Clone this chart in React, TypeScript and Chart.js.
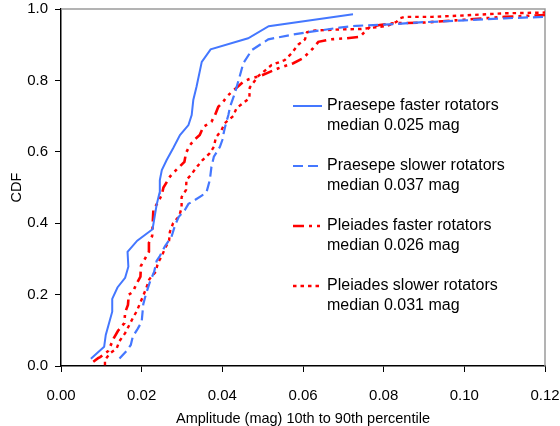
import { useEffect, useRef } from 'react';
import { Chart, registerables } from 'chart.js';

Chart.register(...registerables);

const FONT = '"Liberation Sans", Arial, sans-serif';

const xTickStep = 0.02;
const yTickStep = 0.2;
const xTitle = 'Amplitude (mag) 10th to 90th percentile';
const yTitle = 'CDF';

const praesepeFasterAmp = [0.0074, 0.0107, 0.0111, 0.0127, 0.0127, 0.014, 0.0159, 0.0167, 0.0165, 0.0189, 0.0227, 0.0237, 0.0244, 0.0245, 0.025, 0.0262, 0.0278, 0.0295, 0.0316, 0.0324, 0.0328, 0.0336, 0.0349, 0.0371, 0.0464, 0.0515, 0.0724];
const praesepeFasterCdf = [0.02, 0.054, 0.087, 0.152, 0.188, 0.22, 0.247, 0.278, 0.32, 0.351, 0.383, 0.451, 0.484, 0.521, 0.549, 0.577, 0.61, 0.647, 0.675, 0.703, 0.745, 0.782, 0.852, 0.887, 0.918, 0.952, 0.985];

const praesepeSlowerAmp = [0.0145, 0.0163, 0.0173, 0.0178, 0.019, 0.02, 0.0204, 0.021, 0.022, 0.0231, 0.0237, 0.0245, 0.0258, 0.0274, 0.0283, 0.0292, 0.0307, 0.0316, 0.0332, 0.0349, 0.0361, 0.0369, 0.0373, 0.0379, 0.0394, 0.04, 0.0404, 0.0409, 0.0415, 0.0419, 0.0431, 0.0444, 0.0452, 0.0473, 0.0514, 0.0568, 0.0617, 0.065, 0.0691, 0.0733, 0.0815, 0.0898, 0.1, 0.11, 0.12];
const praesepeSlowerCdf = [0.021, 0.043, 0.059, 0.082, 0.104, 0.124, 0.173, 0.199, 0.234, 0.264, 0.294, 0.308, 0.336, 0.362, 0.395, 0.418, 0.437, 0.454, 0.465, 0.477, 0.488, 0.521, 0.558, 0.586, 0.614, 0.633, 0.656, 0.68, 0.703, 0.726, 0.764, 0.815, 0.848, 0.885, 0.915, 0.927, 0.936, 0.941, 0.948, 0.953, 0.957, 0.963, 0.968, 0.974, 0.978];

const pleiadesFasterAmp = [0.008, 0.0092, 0.0097, 0.0117, 0.0131, 0.0141, 0.0157, 0.0159, 0.0166, 0.0168, 0.0178, 0.0188, 0.0197, 0.0198, 0.0208, 0.0218, 0.0218, 0.0226, 0.0227, 0.0229, 0.0241, 0.025, 0.0254, 0.027, 0.0278, 0.0291, 0.0306, 0.031, 0.032, 0.0332, 0.0344, 0.0353, 0.0373, 0.0382, 0.039, 0.0402, 0.0412, 0.0452, 0.0467, 0.0493, 0.0518, 0.0539, 0.0576, 0.06, 0.0625, 0.0638, 0.0667, 0.0708, 0.0741, 0.0753, 0.0766, 0.079, 0.0824, 0.09, 0.1, 0.11, 0.12];
const pleiadesFasterCdf = [0.012, 0.022, 0.025, 0.042, 0.078, 0.098, 0.12, 0.15, 0.171, 0.2, 0.207, 0.232, 0.25, 0.28, 0.3, 0.32, 0.345, 0.364, 0.39, 0.437, 0.46, 0.48, 0.5, 0.53, 0.541, 0.555, 0.572, 0.597, 0.619, 0.635, 0.647, 0.67, 0.684, 0.703, 0.726, 0.74, 0.756, 0.796, 0.804, 0.812, 0.824, 0.834, 0.848, 0.862, 0.89, 0.908, 0.915, 0.918, 0.922, 0.936, 0.95, 0.955, 0.96, 0.962, 0.97, 0.978, 0.983];

const pleiadesSlowerAmp = [0.0109, 0.0109, 0.0121, 0.0138, 0.0145, 0.0159, 0.0178, 0.0188, 0.0196, 0.0205, 0.0212, 0.0219, 0.0235, 0.024, 0.025, 0.0258, 0.0268, 0.027, 0.0278, 0.0293, 0.0299, 0.0299, 0.031, 0.0311, 0.0324, 0.0335, 0.0351, 0.0369, 0.0379, 0.0384, 0.0398, 0.0406, 0.0427, 0.0435, 0.0467, 0.0468, 0.0489, 0.0522, 0.0555, 0.0572, 0.0588, 0.0605, 0.061, 0.063, 0.07, 0.0745, 0.079, 0.081, 0.0832, 0.084, 0.0852, 0.092, 0.1, 0.11, 0.12];
const pleiadesSlowerCdf = [0.002, 0.017, 0.035, 0.049, 0.07, 0.092, 0.134, 0.154, 0.176, 0.2, 0.22, 0.243, 0.264, 0.288, 0.308, 0.33, 0.351, 0.376, 0.4, 0.42, 0.443, 0.473, 0.493, 0.521, 0.538, 0.555, 0.577, 0.596, 0.614, 0.64, 0.661, 0.68, 0.7, 0.722, 0.75, 0.78, 0.812, 0.843, 0.857, 0.876, 0.9, 0.915, 0.935, 0.94, 0.943, 0.944, 0.95, 0.953, 0.964, 0.974, 0.978, 0.978, 0.982, 0.988, 0.99];

const seriesNames = ['Praesepe faster rotators', 'Praesepe slower rotators', 'Pleiades faster rotators', 'Pleiades slower rotators'];
const seriesMedians = ['median 0.025 mag', 'median 0.037 mag', 'median 0.026 mag', 'median 0.031 mag'];

const BLUE = '#4477ff';
const RED = '#ff0000';
const styles = [
  { color: BLUE, dash: [] as number[], width: 2 },
  { color: BLUE, dash: [10, 5], width: 2.2 },
  { color: RED, dash: [11, 5, 3, 5, 3, 5], width: 2.6 },
  { color: RED, dash: [3.5, 4], width: 2.4 },
];

function zip(xs: number[], ys: number[]) {
  const n = Math.min(xs.length, ys.length);
  const out: { x: number; y: number }[] = [];
  for (let i = 0; i < n; i++) out.push({ x: xs[i], y: ys[i] });
  return out;
}

export default function App() {
  const ref = useRef<HTMLCanvasElement>(null);

  useEffect(() => {
    if (!ref.current) return;
    const seriesData = [
      zip(praesepeFasterAmp, praesepeFasterCdf),
      zip(praesepeSlowerAmp, praesepeSlowerCdf),
      zip(pleiadesFasterAmp, pleiadesFasterCdf),
      zip(pleiadesSlowerAmp, pleiadesSlowerCdf),
    ];

    const borderPlugin = {
      id: 'plotBorder',
      beforeDatasetsDraw(chart: any) {
        const { ctx, chartArea: a } = chart;
        ctx.save();
        ctx.strokeStyle = '#9a9a9a';
        ctx.lineWidth = 1.5;
        ctx.beginPath();
        ctx.moveTo(a.left, a.top);
        ctx.lineTo(a.right, a.top);
        ctx.lineTo(a.right, a.bottom);
        ctx.stroke();
        ctx.restore();
      },
    };

    const legendPlugin = {
      id: 'insideLegend',
      afterDraw(chart: any) {
        const { ctx, chartArea: a } = chart;
        ctx.save();
        ctx.font = `16px ${FONT}`;
        ctx.textBaseline = 'middle';
        ctx.textAlign = 'left';
        const x0 = a.left + 232;
        const x1 = a.left + 261;
        const tx = a.left + 266;
        for (let i = 0; i < seriesNames.length; i++) {
          const y = a.top + 97 + i * 60;
          const s = styles[i];
          ctx.strokeStyle = s.color;
          ctx.lineWidth = s.width;
          ctx.setLineDash(s.dash);
          ctx.beginPath();
          ctx.moveTo(x0, y);
          ctx.lineTo(x1, y);
          ctx.stroke();
          ctx.setLineDash([]);
          ctx.fillStyle = '#000';
          ctx.fillText(seriesNames[i], tx, y);
          ctx.fillText(seriesMedians[i], tx, y + 20);
        }
        ctx.restore();
      },
    };

    const chart = new Chart(ref.current, {
      type: 'scatter',
      data: {
        datasets: seriesData.map((d, i) => ({
          label: seriesNames[i],
          data: d,
          showLine: true,
          borderColor: styles[i].color,
          backgroundColor: styles[i].color,
          borderWidth: styles[i].width,
          borderDash: styles[i].dash,
          pointRadius: 0,
          pointHoverRadius: 0,
          tension: 0,
        })),
      },
      options: {
        responsive: false,
        animation: false,
        layout: { padding: { left: 0, right: 0, top: 0, bottom: 0 } },
        plugins: {
          legend: { display: false },
          tooltip: { enabled: false },
        },
        scales: {
          x: {
            type: 'linear',
            min: 0,
            max: 0.12,
            afterFit: (s: any) => { s.height = 60; s.paddingRight = 15; s.paddingLeft = 0; },
            ticks: {
              stepSize: xTickStep,
              callback: (v: any) => Number(v).toFixed(2),
              font: { family: FONT, size: 15 },
              color: '#000',
              padding: 15,
              maxRotation: 0,
            },
            grid: { drawOnChartArea: false, drawTicks: true, tickLength: 6, color: '#000', lineWidth: 1 },
            border: { color: '#000', width: 1.5 },
            title: {
              display: true,
              text: xTitle,
              font: { family: FONT, size: 14.5, lineHeight: 1.0 },
              color: '#000',
              padding: { top: 0, bottom: 0 },
            },
          },
          y: {
            type: 'linear',
            min: 0,
            max: 1,
            afterFit: (s: any) => { s.width = 61; s.paddingTop = 9; s.paddingBottom = 0; },
            ticks: {
              stepSize: yTickStep,
              callback: (v: any) => Number(v).toFixed(1),
              font: { family: FONT, size: 15 },
              color: '#000',
              padding: 7,
            },
            grid: { drawOnChartArea: false, drawTicks: true, tickLength: 6, color: '#000', lineWidth: 1 },
            border: { color: '#000', width: 1.5 },
            title: {
              display: true,
              text: yTitle,
              font: { family: FONT, size: 14.5 },
              color: '#000',
              padding: { top: 8, bottom: 0 },
            },
          },
        },
      },
      plugins: [borderPlugin, legendPlugin],
    });
    return () => chart.destroy();
  }, []);

  return (
    <div style={{ position: 'fixed', left: 0, top: 0, width: 560, height: 426, background: '#fff' }}>
      <canvas ref={ref} width={560} height={426} style={{ display: 'block' }} />
    </div>
  );
}
